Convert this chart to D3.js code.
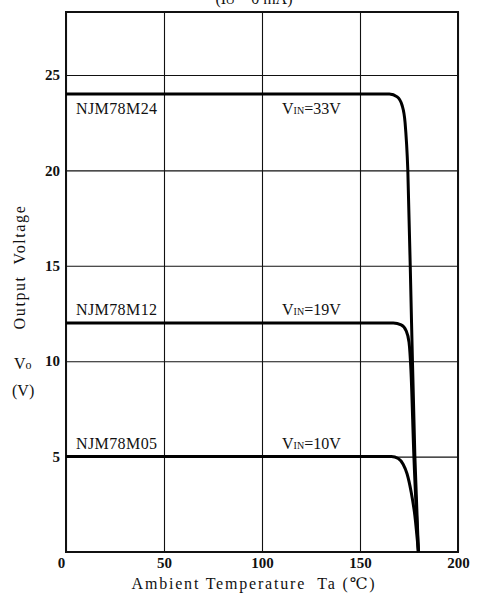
<!DOCTYPE html>
<html>
<head>
<meta charset="utf-8">
<script src="https://cdn.jsdelivr.net/npm/d3@7"></script>
<style>
  body { margin: 0; background: #fff; }
  svg { display: block; }
  text { font-family: "Liberation Serif", "DejaVu Serif", serif; fill: #111; }
</style>
</head>
<body>
<svg width="478" height="600"></svg>
<script>
// data
const xTicks = [0, 50, 100, 150, 200];
const yTicks = [5, 10, 15, 20, 25];

const temp24 = [0, 165, 169, 171.5, 173, 174.4, 176.3, 178, 179.8];
const volt24 = [24, 24, 23.85, 23.4, 22.5, 20, 12, 5, 0];

const temp12 = [0, 167, 171, 173.5, 175, 176, 177.5, 179.8];
const volt12 = [12, 12, 11.9, 11.6, 11, 9.5, 5, 0];

const temp05 = [0, 166, 169.5, 172, 174, 176, 178, 179.8];
const volt05 = [5, 5, 4.9, 4.6, 4.1, 3.2, 1.9, 0];

const seriesNames = ["NJM78M24", "NJM78M12", "NJM78M05"];
const seriesVin = ["33V", "19V", "10V"];
const seriesLevel = [24, 12, 5];

var svg = d3.select("svg");

var x = d3.scaleLinear().domain([0, 200]).range([66, 458]);
var y = d3.scaleLinear().domain([0, 28.3]).range([552, 12]);

// grid + tick labels
var xAxis = d3.axisBottom(x)
  .tickValues(xTicks)
  .tickSize(-(552 - 12))
  .tickPadding(5)
  .tickFormat(d3.format("d"));

var gx = svg.append("g").attr("transform", "translate(0,552)").call(xAxis);
gx.select(".domain").remove();
gx.selectAll("line").attr("stroke", "#111").attr("stroke-width", 1.1);
gx.selectAll("text")
  .attr("font-size", 15).attr("font-weight", "bold")
  .attr("font-family", "Liberation Serif, serif")
  .filter((d) => d === 0).attr("dx", -5);

var yAxis = d3.axisLeft(y)
  .tickValues(yTicks)
  .tickSize(-(458 - 66))
  .tickPadding(6);

var gy = svg.append("g").attr("transform", "translate(66,0)").call(yAxis);
gy.select(".domain").remove();
gy.selectAll("line").attr("stroke", "#111").attr("stroke-width", 1.1);
gy.selectAll("text")
  .attr("font-size", 15).attr("font-weight", "bold")
  .attr("font-family", "Liberation Serif, serif");

// frame
svg.append("rect")
  .attr("x", x(0)).attr("y", y(28.3))
  .attr("width", x(200) - x(0)).attr("height", y(0) - y(28.3))
  .attr("fill", "none").attr("stroke", "#111").attr("stroke-width", 2);

// curves
var line = d3.line()
  .x((d) => x(d[0]))
  .y((d) => y(d[1]))
  .curve(d3.curveMonotoneX);

[[temp24, volt24], [temp12, volt12], [temp05, volt05]].forEach(function (s) {
  svg.append("path")
    .datum(d3.zip(s[0], s[1]))
    .attr("d", line)
    .attr("fill", "none")
    .attr("stroke", "#000")
    .attr("stroke-width", 3)
    .attr("stroke-linejoin", "round");
});

// curve labels (24V under the line, others above)
seriesNames.forEach(function (name, i) {
  var ty = i === 0 ? y(seriesLevel[i]) + 20 : y(seriesLevel[i]) - 8;
  svg.append("text")
    .attr("x", 76).attr("y", ty)
    .attr("font-size", 16)
    .attr("letter-spacing", 0.4)
    .text(name);

  var t = svg.append("text")
    .attr("x", 282).attr("y", ty)
    .attr("font-size", 16);
  t.append("tspan").text("V");
  t.append("tspan").attr("font-size", 10).text("IN");
  t.append("tspan").text("=" + seriesVin[i]);
});

// axis titles
svg.append("text")
  .attr("x", 254).attr("y", 589)
  .attr("text-anchor", "middle")
  .attr("font-size", 16)
  .attr("letter-spacing", 1.8)
  .attr("xml:space", "preserve")
  .text("Ambient Temperature  Ta (℃)");

svg.append("text")
  .attr("transform", "translate(25,267) rotate(-90)")
  .attr("text-anchor", "middle")
  .attr("font-size", 16)
  .attr("letter-spacing", 1.6)
  .attr("xml:space", "preserve")
  .text("Output  Voltage");

var vo = svg.append("text").attr("x", 14).attr("y", 369).attr("font-size", 16);
vo.append("tspan").text("V");
vo.append("tspan").attr("font-size", 12).text("o");

svg.append("text")
  .attr("x", 12).attr("y", 396)
  .attr("font-size", 16)
  .text("(V)");

// condition line, only its lower edge shows in the scan
var cond = svg.append("text")
  .attr("x", 254).attr("y", 4)
  .attr("text-anchor", "middle")
  .attr("font-size", 16);
cond.append("tspan").text("(I");
cond.append("tspan").attr("font-size", 11).text("O");
cond.append("tspan").text(" = 0 mA)");
</script>
</body>
</html>
